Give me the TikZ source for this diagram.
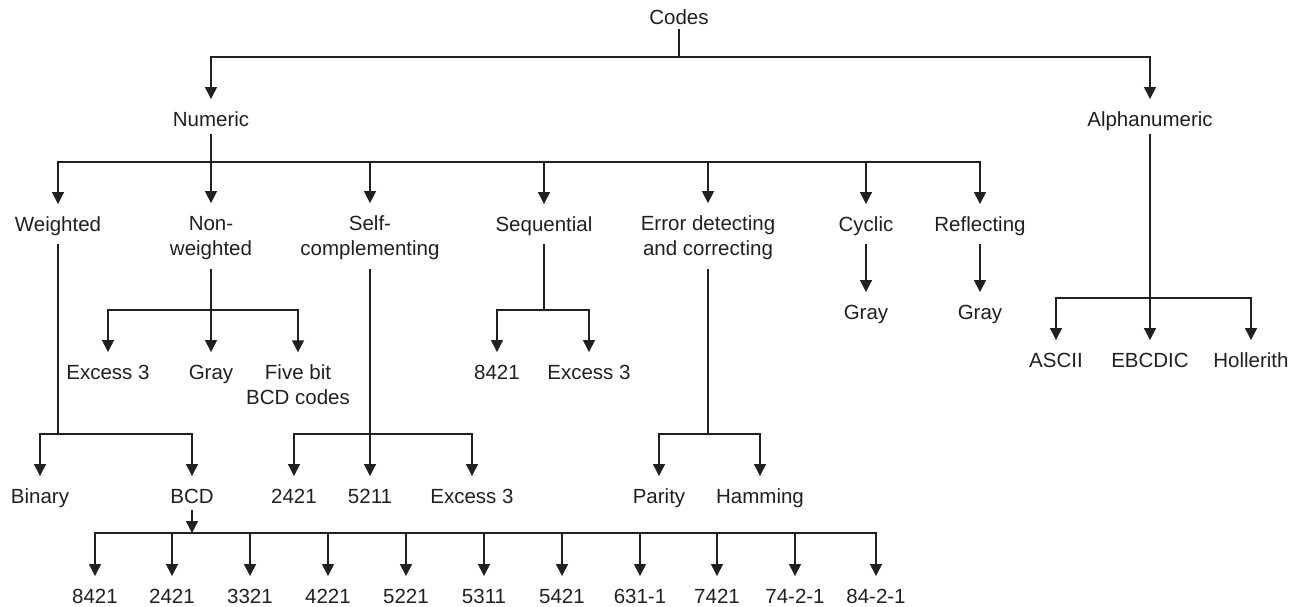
\documentclass[tikz,border=0pt]{standalone}
\usepackage{fontspec}
\setmainfont{Liberation Sans}
\usetikzlibrary{arrows.meta}
\definecolor{ink}{HTML}{231F20}
% struts that fix the first-line height and last-line depth of two-line labels
\newcommand\toprl{\rule{0pt}{17pt}}
\newcommand\botrl{\rule[-2.5pt]{0pt}{2.5pt}}
\begin{document}
\begin{tikzpicture}[x=1pt,y=-1pt,
  lbl/.style={inner xsep=2pt, inner ysep=10pt, text height=17pt, text depth=2.5pt,
              font=\fontsize{20.5}{24.7}\selectfont, text=ink},
  lbltwo/.style={inner xsep=2pt, inner ysep=10pt, align=center,
              font=\fontsize{20.5}{24.7}\selectfont, text=ink},
  conn/.style={draw=ink, line width=1.4pt},
  arr/.style={conn, -{Triangle[width=12pt,length=12pt]}}]
\useasboundingbox (0,0) rectangle (1299,607);

% top level
\node[lbl] (codes) at (679,17.5) {Codes};
\node[lbl] (numeric) at (211,119) {Numeric};
\node[lbl] (alpha) at (1150,119) {Alphanumeric};
\coordinate (jc) at (679,57);
\draw[conn, shorten <=-8pt] (codes) -- (jc);
\draw[arr] (jc) -| (numeric);
\draw[arr] (jc) -| (alpha);

% kinds of numeric codes
\node[lbl] (weighted) at (58,224) {Weighted};
\node[lbltwo] (nonw) at (211,236.3) {\toprl Non-\\weighted\botrl};
\node[lbltwo] (selfc) at (370,236.3) {\toprl Self-\\complementing\botrl};
\node[lbl] (seq) at (544,224) {Sequential};
\node[lbltwo] (err) at (708,236.3) {\toprl Error detecting\\and correcting\botrl};
\node[lbl] (cyclic) at (866,224) {Cyclic};
\node[lbl] (refl) at (980,224) {Reflecting};
\coordinate (jn) at (211,162);
\draw[conn, shorten <=-5pt] (numeric) -- (jn);
\draw[arr] (jn) -| (weighted);
\draw[arr] (jn) -- (nonw);
\draw[arr] (jn) -| (selfc);
\draw[arr] (jn) -| (seq);
\draw[arr] (jn) -| (err);
\draw[arr] (jn) -| (cyclic);
\draw[arr] (jn) -| (refl);

% non-weighted
\node[lbl] (nwex) at (108,372) {Excess 3};
\node[lbl] (nwgray) at (211,372) {Gray};
\node[lbltwo] (nwfive) at (298,384.6) {\toprl Five bit\\BCD codes\botrl};
\coordinate (jnw) at (211,310);
\draw[arr] (nonw) -- (nwgray);
\draw[arr] (jnw) -| (nwex);
\draw[arr] (jnw) -| (nwfive);

% sequential
\node[lbl] (sqa) at (497,372) {8421};
\node[lbl] (sqb) at (589,372) {Excess 3};
\coordinate (jsq) at (544,310);
\draw[conn] (seq) -- (jsq);
\draw[arr] (jsq) -| (sqa);
\draw[arr] (jsq) -| (sqb);

% cyclic and reflecting
\node[lbl] (cgray) at (866,312) {Gray};
\node[lbl] (rgray) at (980,312) {Gray};
\draw[arr] (cyclic) -- (cgray);
\draw[arr] (refl) -- (rgray);

% alphanumeric
\node[lbl] (ascii) at (1056,360) {ASCII};
\node[lbl] (ebcdic) at (1150,360) {EBCDIC};
\node[lbl] (holl) at (1251,360) {Hollerith};
\coordinate (ja) at (1150,298);
\draw[arr, shorten <=-5pt] (alpha) -- (ebcdic);
\draw[arr] (ja) -| (ascii);
\draw[arr] (ja) -| (holl);

% weighted
\node[lbl] (binary) at (40,496) {Binary};
\node[lbl] (bcd) at (192,496) {BCD};
\coordinate (jw) at (58,434);
\draw[conn] (weighted) -- (jw);
\draw[arr] (jw) -| (binary);
\draw[arr] (jw) -| (bcd);

% self-complementing
\node[lbl] (sca) at (294,496) {2421};
\node[lbl] (scb) at (370,496) {5211};
\node[lbl] (scc) at (472,496) {Excess 3};
\coordinate (js) at (370,434);
\draw[arr] (selfc) -- (scb);
\draw[arr] (js) -| (sca);
\draw[arr] (js) -| (scc);

% error detecting and correcting
\node[lbl] (parity) at (659,496) {Parity};
\node[lbl] (hamming) at (760,496) {Hamming};
\coordinate (je) at (708,434);
\draw[conn] (err) -- (je);
\draw[arr] (je) -| (parity);
\draw[arr] (je) -| (hamming);

% BCD weightings
\coordinate (jb) at (192,533);
\draw[arr, shorten <=-6pt] (bcd) -- (jb);
\foreach \nm/\xx/\tx in {w1/95/8421, w2/172/2421, w3/250/3321, w4/328/4221,
    w5/406/5221, w6/484/5311, w7/562/5421, w8/640/631-1, w9/717/7421,
    w10/795/74-2-1, w11/876/84-2-1} {
  \node[lbl] (\nm) at (\xx,596) {\tx};
  \draw[arr] (jb) -| (\nm);
}
\end{tikzpicture}
\end{document}
